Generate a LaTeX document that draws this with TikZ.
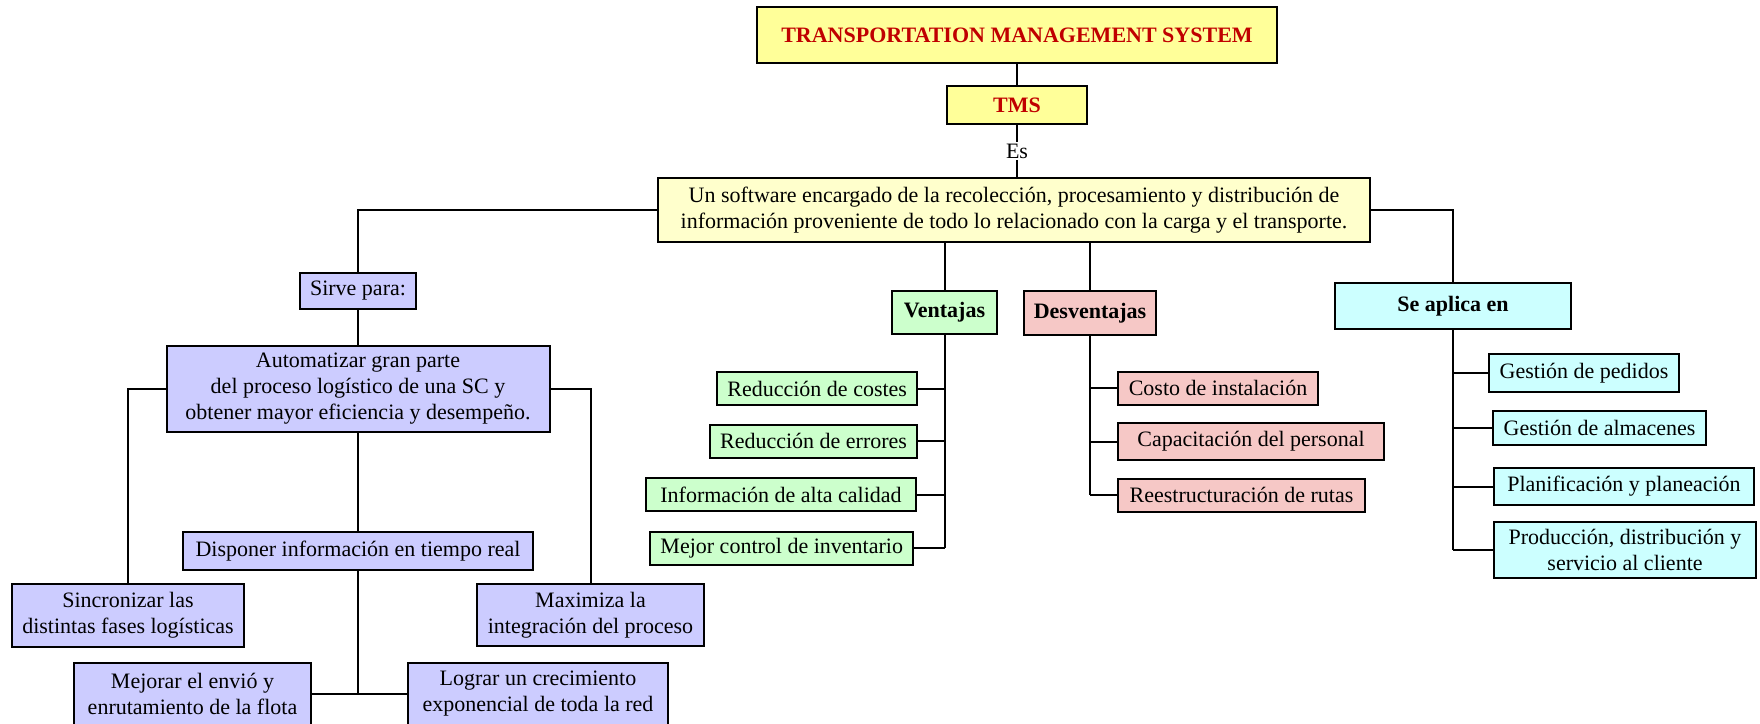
\documentclass[tikz,border=0pt]{standalone}
\usepackage{fontspec}
\setmainfont{Liberation Serif}
\usetikzlibrary{positioning}
\definecolor{tmsyellow}{HTML}{FFFF99}
\definecolor{defyellow}{HTML}{FFFFCC}
\definecolor{lavbox}{HTML}{CCCCFF}
\definecolor{greenbox}{HTML}{CCFFCC}
\definecolor{pinkbox}{HTML}{F6C8C6}
\definecolor{cyanbox}{HTML}{CCFFFF}
\definecolor{titlered}{HTML}{C00000}
\begin{document}
\begin{tikzpicture}[x=0.5pt, y=-0.5pt,
        box/.style={rectangle, draw=black, line width=1pt, text centered, align=center, inner xsep=5pt, inner ysep=2pt, font=\fontsize{11}{13}\selectfont},
        head/.style={box, fill=tmsyellow, text=titlered, font=\fontsize{11}{13}\selectfont\bfseries},
        info/.style={box, fill=defyellow},
        purp/.style={box, fill=lavbox},
        pro/.style={box, fill=greenbox, minimum height=16.5pt},
        contra/.style={box, fill=pinkbox, minimum height=16.5pt},
        usage/.style={box, fill=cyanbox, minimum height=17pt},
        link/.style={line width=1pt}
    ]
        \useasboundingbox (0,0) rectangle (1760,723);

        % Top of the map
        \node[head, minimum width=260pt, minimum height=28pt] (title) at (1017,35) {TRANSPORTATION MANAGEMENT SYSTEM};
        \node[head, minimum width=70pt, minimum height=19pt] (tms) at (1017,105) {TMS};
        \node[info, minimum width=356pt, minimum height=32pt] (def) at (1014,210) {Un software encargado de la recolección, procesamiento y distribución de\\información proveniente de todo lo relacionado con la carga y el transporte.};
        \draw[link] (title) -- (tms);
        \draw[link] (tms) -- node[fill=white, inner sep=1pt, font=\fontsize{11}{13}\selectfont] (es) {Es} (def.north -| tms.south);

        % Sirve para
        \node[purp, minimum height=18pt] (sirve) at (358,291) {Sirve para:};
        \node[purp, minimum width=191.5pt, minimum height=43pt] (auto) at (358,389) {Automatizar gran parte\\del proceso logístico de una SC y\\obtener mayor eficiencia y desempeño.};
        \node[purp, minimum width=175pt, minimum height=19pt] (disp) at (358,551) {Disponer información en tiempo real};
        \node[purp, minimum width=116pt, minimum height=31.5pt] (sinc) at (128,615.5) {Sincronizar las\\distintas fases logísticas};
        \node[purp, minimum width=113.5pt, minimum height=31pt] (maxi) at (590.5,615) {Maximiza la\\integración del proceso};
        \node[purp, minimum width=118.5pt, minimum height=31pt] (mejo) at (192.5,694) {Mejorar el envió y\\enrutamiento de la flota};
        \node[purp, minimum width=130pt, minimum height=31pt] (logr) at (538,694) {Lograr un crecimiento\\exponencial de toda la red};
        \draw[link] (def.west) -| (sirve.north);
        \draw[link] (sirve) -- (auto);
        \draw[link] (auto) -- (disp);
        \draw[link] (auto.west) -| (sinc.north);
        \draw[link] (auto.east) -| (maxi.north);
        \draw[link] (disp.south) -- (disp.south |- mejo.east);
        \draw[link] (mejo.east) -- (logr.west);

        % Ventajas
        \node[pro, minimum width=52.5pt, minimum height=21.5pt, font=\fontsize{11}{13}\selectfont\bfseries] (vent) at (944.5,312.5) {Ventajas};
        \node[pro, anchor=east] (rc) at (918,388.5) {Reducción de costes};
        \node[pro, anchor=east] (re) at (918,441) {Reducción de errores};
        \node[pro, anchor=east, minimum width=135pt] (ia) at (917,494.5) {Información de alta calidad};
        \node[pro, anchor=east] (mc) at (914,548) {Mejor control de inventario};
        \draw[link] (def.south -| vent.north) -- (vent.north);
        \draw[link] (vent.south) -- (vent.south |- mc.east);
        \foreach \v in {rc,re,ia,mc}
            \draw[link] (\v.east) -- (\v.east -| vent.south);

        % Desventajas
        \node[contra, minimum width=66pt, minimum height=22pt, font=\fontsize{11}{13}\selectfont\bfseries] (desv) at (1090,313) {Desventajas};
        \node[contra, anchor=west, minimum width=100pt] (ci) at (1117,388) {Costo de instalación};
        \node[contra, anchor=west, minimum width=133pt, minimum height=18.5pt] (cp) at (1117,441.5) {Capacitación del personal};
        \node[contra, anchor=west, minimum width=123.5pt] (rr) at (1117,495) {Reestructuración de rutas};
        \draw[link] (def.south -| desv.north) -- (desv.north);
        \draw[link] (desv.south) -- (desv.south |- rr.west);
        \foreach \d in {ci,cp,rr}
            \draw[link] (\d.west) -- (\d.west -| desv.south);

        % Se aplica en
        \node[usage, minimum width=118pt, minimum height=23pt, font=\fontsize{11}{13}\selectfont\bfseries] (apli) at (1453,306) {Se aplica en};
        \node[usage, anchor=west, minimum width=95pt, minimum height=19pt] (gp) at (1488,373) {Gestión de pedidos};
        \node[usage, anchor=west, minimum width=106.5pt] (ga) at (1492,427.5) {Gestión de almacenes};
        \node[usage, anchor=west, minimum width=130pt, minimum height=18.5pt] (pp) at (1493,486.5) {Planificación y planeación};
        \node[usage, anchor=west, minimum width=131pt, minimum height=28pt] (pd) at (1493,550) {Producción, distribución y\\servicio al cliente};
        \draw[link] (def.east) -| (apli.north);
        \draw[link] (apli.south) -- (apli.south |- pd.west);
        \foreach \a in {gp,ga,pp,pd}
            \draw[link] (\a.west) -- (\a.west -| apli.south);
    \end{tikzpicture}
\end{document}
